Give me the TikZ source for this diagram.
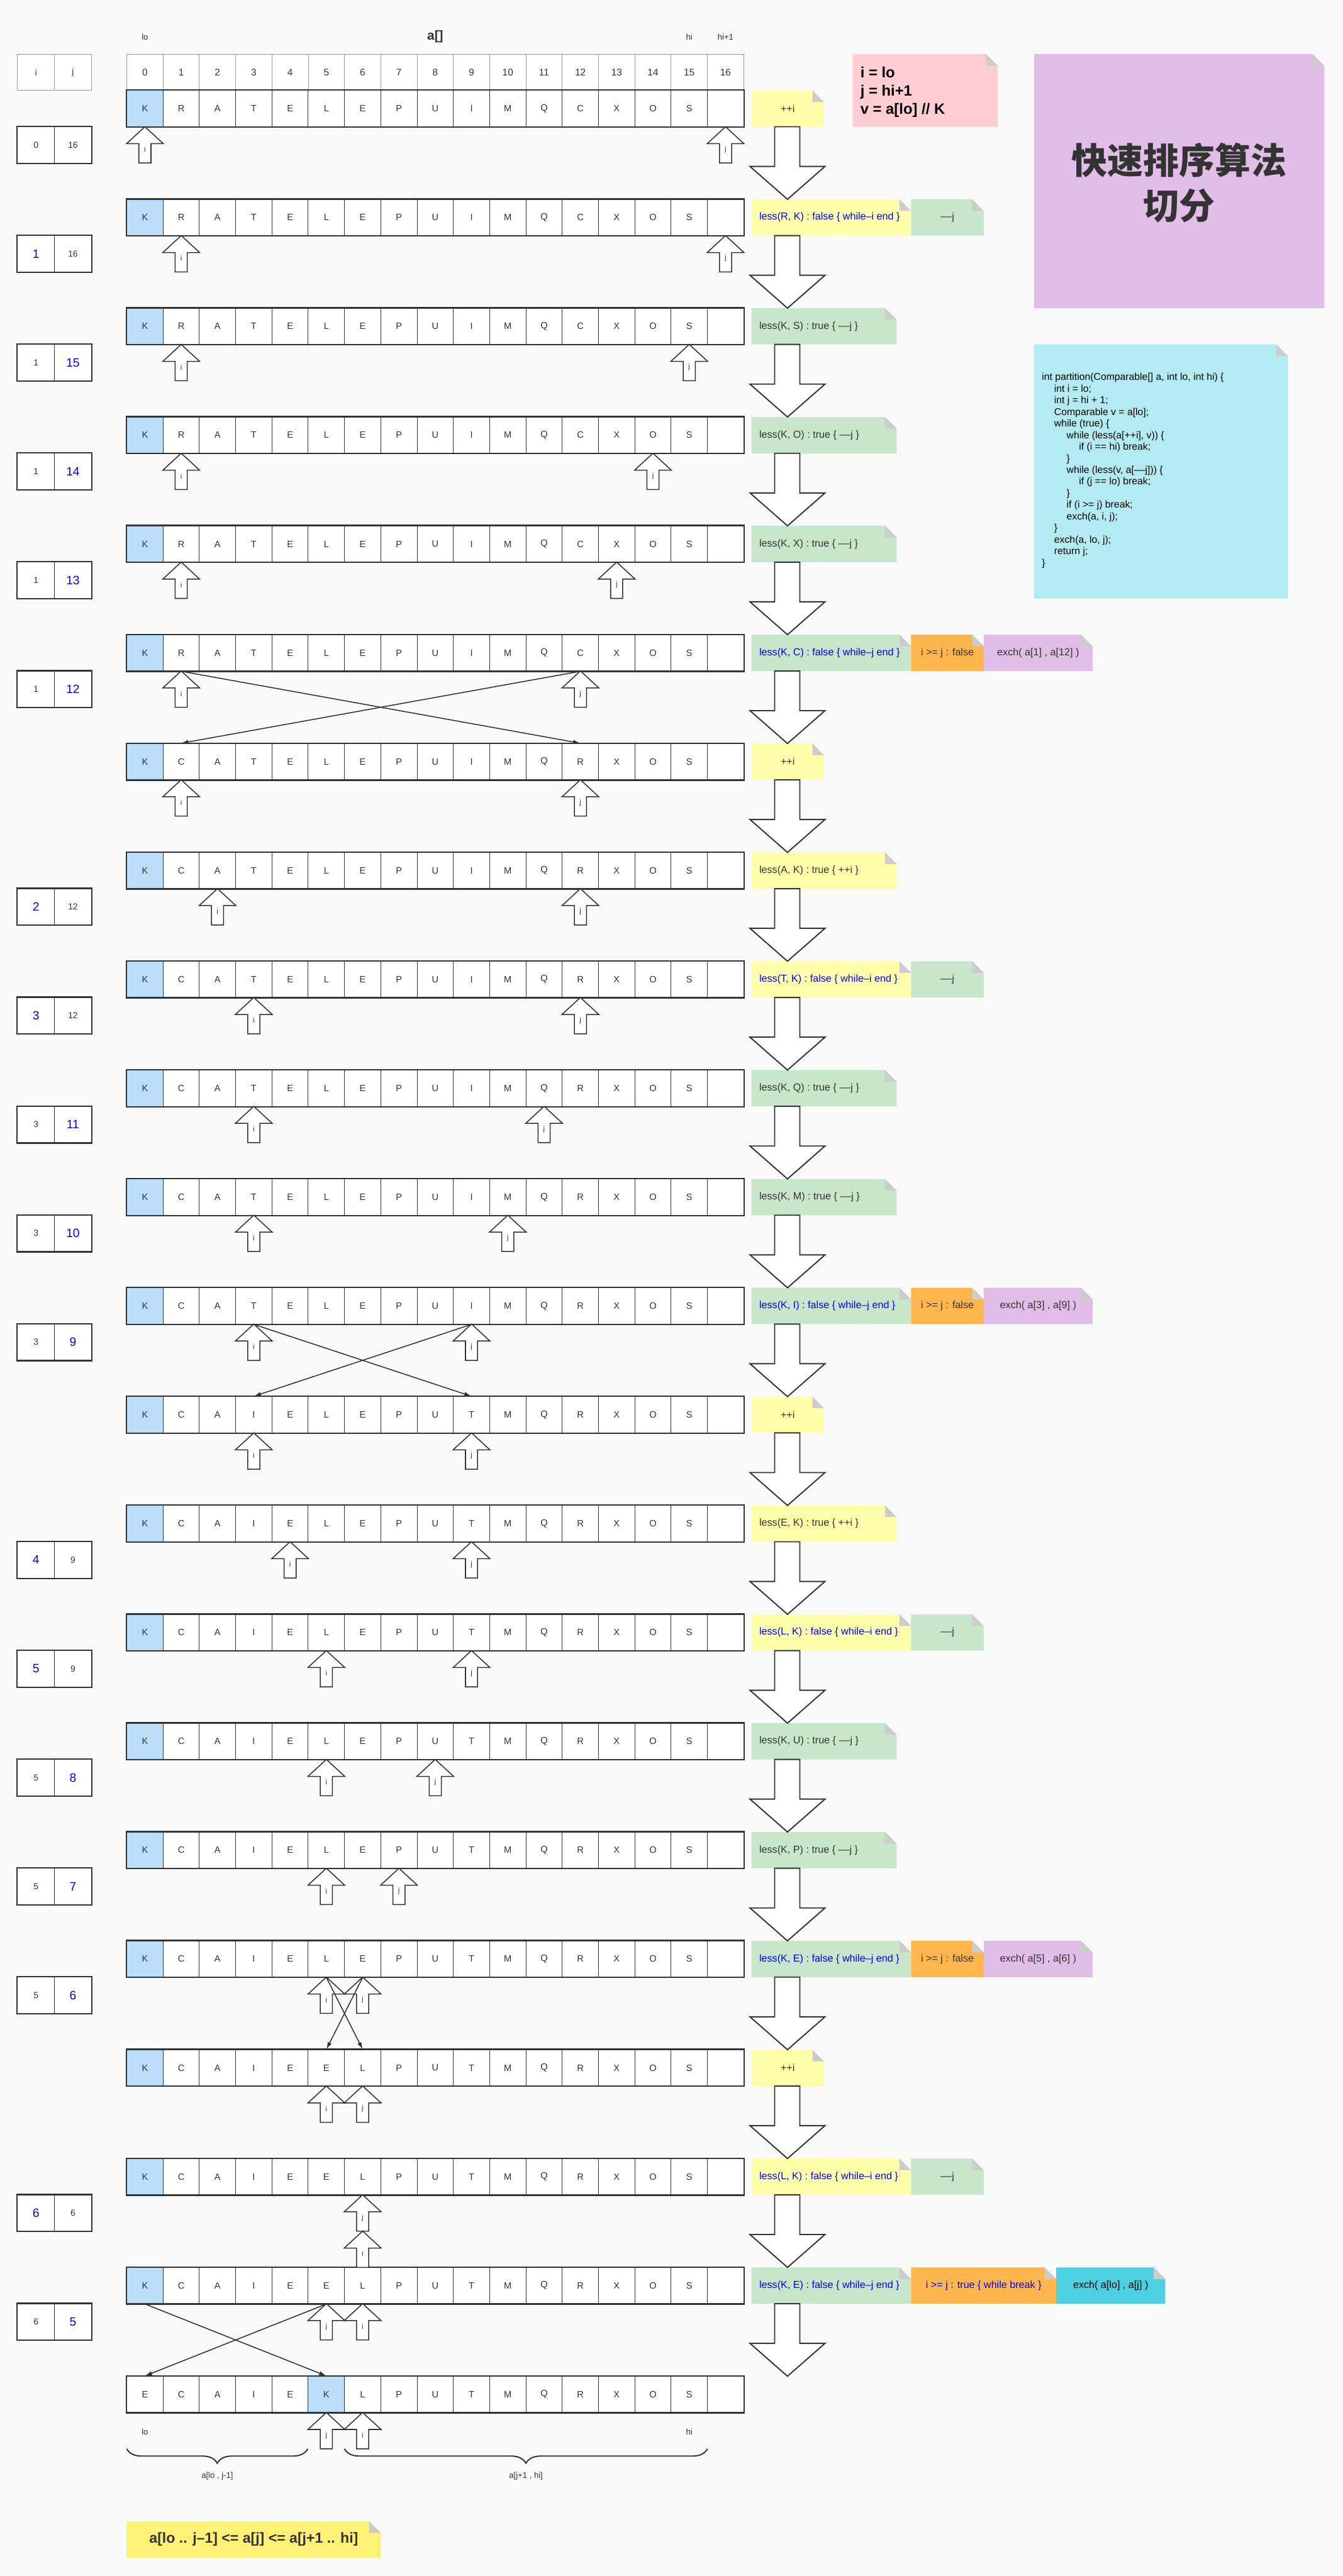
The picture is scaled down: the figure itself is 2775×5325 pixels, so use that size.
\documentclass[tikz,border=0pt]{standalone}
\usepackage{fontspec}
\setmainfont{Liberation Sans}
\newfontfamily\cjkfont{Noto Sans CJK SC}
\usetikzlibrary{arrows.meta,decorations.pathreplacing}
\definecolor{bgc}{HTML}{F9F9F9}
\definecolor{ink}{HTML}{333333}
\definecolor{hgray}{HTML}{999999}
\definecolor{cellblue}{HTML}{BBDEFB}
\definecolor{nyellow}{HTML}{FFFFAA}
\definecolor{ngreen}{HTML}{C8E6C9}
\definecolor{norange}{HTML}{FFB74D}
\definecolor{npurple}{HTML}{E1BEE7}
\definecolor{npink}{HTML}{FFCDD2}
\definecolor{ncyan}{HTML}{B2EBF2}
\definecolor{ncyanb}{HTML}{4DD0E1}
\definecolor{nyellowb}{HTML}{FFF176}
\definecolor{foldc}{HTML}{CCCCCC}
\definecolor{tblue}{HTML}{0000FF}
\newcommand\fs[1]{\fontsize{#1}{#1}\selectfont}
\def\rowA{K,R,A,T,E,L,E,P,U,I,M,Q,C,X,O,S,{}}
\def\rowB{K,C,A,T,E,L,E,P,U,I,M,Q,R,X,O,S,{}}
\def\rowC{K,C,A,I,E,L,E,P,U,T,M,Q,R,X,O,S,{}}
\def\rowD{K,C,A,I,E,E,L,P,U,T,M,Q,R,X,O,S,{}}
\def\rowE{E,C,A,I,E,K,L,P,U,T,M,Q,R,X,O,S,{}}
\tikzset{
 cell/.style={draw=ink, line width=1.3pt, minimum width=75pt, minimum height=75pt, inner sep=0pt, text=ink, font=\fs{19}},
 hcell/.style={draw=hgray, line width=1.2pt, fill=white, minimum width=75pt, minimum height=75pt, inner sep=0pt, text=ink, font=\fs{20}},
 hjcell/.style={draw=hgray, line width=1.2pt, fill=white, minimum width=76.5pt, minimum height=75pt, inner sep=0pt, text=ink, font=\fs{18}},
 scell/.style={draw=ink, line width=1.3pt, fill=white, minimum width=76.5pt, minimum height=75pt, inner sep=0pt, text=ink, font=\fs{18}},
 sblue/.style={text=tblue, font=\fs{25}},
 ptrshape/.style={draw=ink, fill=white, line width=2pt, line join=miter},
 ptrlabel/.style={inner sep=0pt, text=ink, font=\fs{15}},
 bigarrow/.style={draw=ink, fill=white, line width=2.5pt, line join=miter},
 ntxt/.style={inner sep=0pt, text=ink, font=\fs{21}},
 btxt/.style={inner sep=0pt, text=tblue, font=\fs{21}},
 ktxt/.style={inner sep=0pt, text=black, font=\fs{21}},
 xarr/.style={draw=ink, line width=2pt, -{Latex[length=15pt,width=9pt]}},
 lbl/.style={inner sep=0pt, text=ink, font=\fs{17}},
 codetxt/.style={inner sep=0pt, text=black, font=\fs{20.5}, anchor=west},
 bracestyle/.style={draw=ink, line width=2.5pt, decorate, decoration={brace, mirror, amplitude=30pt}},
}
% one array row: #1 row index, #2 letters, #3 highlighted column
\newcommand\drawrow[3]{%
 \foreach \ch [count=\cc from 0] in #2 {%
   \ifnum\cc=#3 \def\cf{cellblue}\else\def\cf{white}\fi
   \node[cell, fill=\cf] (r#1-\cc) at ({299.5+75*\cc},{224.5+225*#1}) {\ch};
 }
 \draw[line width=3pt, ink] (r#1-0.north west) rectangle (r#1-16.south east);
}
% state box: #1 row, #2 i, #3 j, #4 style i, #5 style j
\newcommand\stbox[5]{%
 \node[scell, #4] (s#1i) at (74.25,{299.5+225*#1}) {#2};
 \node[scell, #5] (s#1j) at (150.75,{299.5+225*#1}) {#3};
 \draw[line width=3pt, ink] (s#1i.north west) rectangle (s#1j.south east);
}
% pointer: #1 name, #2 column, #3 row, #4 label, #5 extra offset
\newcommand\ptr[5]{%
 \draw[ptrshape] ({299.5+75*#2},{262+225*#3+#5}) -- ++(38,35) -- ++(-25.5,0) -- ++(0,40) -- ++(-25,0) -- ++(0,-40) -- ++(-25.5,0) -- cycle;
 \node[ptrlabel] (#1) at ({299.5+75*#2},{309+225*#3+#5}) {#4};
}
\newcommand\bigarr[1]{%
 \draw[bigarrow] (1601,{262+225*#1}) -- (1653,{262+225*#1}) -- (1653,{344+225*#1}) -- (1705,{344+225*#1}) -- (1627.5,{412+225*#1}) -- (1550,{344+225*#1}) -- (1601,{344+225*#1}) -- cycle;
}
% note background: #1 x, #2 y top, #3 w, #4 h, #5 colour
\newcommand\notebg[5]{%
 \fill[#5] (#1,{#2}) -- ++({#3-24},0) -- ++(24,24) -- ++(0,{#4-24}) -- ++({-(#3)},0) -- cycle;
 \fill[foldc] ({#1+#3-24},{#2}) -- ++(24,24) -- ++(-24,0) -- cycle;
}
\newcommand\cnote[7]{%
 \notebg{#3}{187+225*#2}{#4}{75}{#5}
 \node[#6] (#1) at ({#3+#4/2},{224.5+225*#2}) {#7};
}
\newcommand\lnote[7]{%
 \notebg{#3}{187+225*#2}{#4}{75}{#5}
 \node[#6, anchor=west] (#1) at ({#3+16},{224.5+225*#2}) {#7};
}
\newcommand\cl[4]{\node[codetxt] (#1) at ({2153+25.6*#2},{781+24*#3}) {#4};}
\begin{document}
\begin{tikzpicture}[x=1pt,y=-1pt]
\useasboundingbox (0,0) rectangle (2775,5325);
\fill[bgc] (0,0) rectangle (2775,5325);
% top labels
\node[lbl] (toplo) at (299.5,76) {lo};
\node[inner sep=0pt, text=ink, font=\bfseries\fs{27}] (arrname) at (899.5,76) {a[]};
\node[lbl] (tophi) at (1424.5,76) {hi};
\node[lbl] (tophi1) at (1499.5,76) {hi+1};
% header
\node[hjcell] (hdi) at (74.25,149.5) {i};
\node[hjcell] (hdj) at (150.75,149.5) {j};
\foreach \c in {0,...,16} {\node[hcell] (h\c) at ({299.5+75*\c},149.5) {\c};}
% array rows
\foreach \k in {0,...,5} {\drawrow{\k}{\rowA}{0}}
\foreach \k in {6,...,11} {\drawrow{\k}{\rowB}{0}}
\foreach \k in {12,...,17} {\drawrow{\k}{\rowC}{0}}
\foreach \k in {18,...,20} {\drawrow{\k}{\rowD}{0}}
\drawrow{21}{\rowE}{5}
% state boxes
\stbox{0}{0}{16}{}{}
\stbox{1}{1}{16}{sblue}{}
\stbox{2}{1}{15}{}{sblue}
\stbox{3}{1}{14}{}{sblue}
\stbox{4}{1}{13}{}{sblue}
\stbox{5}{1}{12}{}{sblue}
\stbox{7}{2}{12}{sblue}{}
\stbox{8}{3}{12}{sblue}{}
\stbox{9}{3}{11}{}{sblue}
\stbox{10}{3}{10}{}{sblue}
\stbox{11}{3}{9}{}{sblue}
\stbox{13}{4}{9}{sblue}{}
\stbox{14}{5}{9}{sblue}{}
\stbox{15}{5}{8}{}{sblue}
\stbox{16}{5}{7}{}{sblue}
\stbox{17}{5}{6}{}{sblue}
\stbox{19}{6}{6}{sblue}{}
\stbox{20}{6}{5}{}{sblue}
% pointers
\foreach \k/\colI/\colJ in {0/0/16,1/1/16,2/1/15,3/1/14,4/1/13,5/1/12,6/1/12,7/2/12,8/3/12,9/3/11,10/3/10,11/3/9,12/3/9,13/4/9,14/5/9,15/5/8,16/5/7,17/5/6,18/5/6,20/6/5,21/6/5} {
  \ptr{pi\k}{\colI}{\k}{i}{0}
  \ptr{pj\k}{\colJ}{\k}{j}{0}
}
\ptr{pj19}{6}{19}{j}{0}
\ptr{pi19}{6}{19}{i}{75}
% notes
\cnote{n0}{0}{1553}{150}{nyellow}{ntxt}{++i}
\lnote{n1a}{1}{1553}{330}{nyellow}{btxt}{less(R, K) : false \{ while–i end \}}
\cnote{n1b}{1}{1883}{150}{ngreen}{ntxt}{––j}
\lnote{n2}{2}{1553}{300}{ngreen}{ntxt}{less(K, S) : true \{ ––j \}}
\lnote{n3}{3}{1553}{300}{ngreen}{ntxt}{less(K, O) : true \{ ––j \}}
\lnote{n4}{4}{1553}{300}{ngreen}{ntxt}{less(K, X) : true \{ ––j \}}
\lnote{n5a}{5}{1553}{330}{ngreen}{btxt}{less(K, C) : false \{ while–j end \}}
\cnote{n5b}{5}{1883}{150}{norange}{ntxt}{i >= j : false}
\cnote{n5c}{5}{2033}{225}{npurple}{ntxt}{exch( a[1] , a[12] )}
\cnote{n6}{6}{1553}{150}{nyellow}{ntxt}{++i}
\lnote{n7}{7}{1553}{300}{nyellow}{ntxt}{less(A, K) : true \{ ++i \}}
\lnote{n8a}{8}{1553}{330}{nyellow}{btxt}{less(T, K) : false \{ while–i end \}}
\cnote{n8b}{8}{1883}{150}{ngreen}{ntxt}{––j}
\lnote{n9}{9}{1553}{300}{ngreen}{ntxt}{less(K, Q) : true \{ ––j \}}
\lnote{n10}{10}{1553}{300}{ngreen}{ntxt}{less(K, M) : true \{ ––j \}}
\lnote{n11a}{11}{1553}{330}{ngreen}{btxt}{less(K, I) : false \{ while–j end \}}
\cnote{n11b}{11}{1883}{150}{norange}{ntxt}{i >= j : false}
\cnote{n11c}{11}{2033}{225}{npurple}{ntxt}{exch( a[3] , a[9] )}
\cnote{n12}{12}{1553}{150}{nyellow}{ntxt}{++i}
\lnote{n13}{13}{1553}{300}{nyellow}{ntxt}{less(E, K) : true \{ ++i \}}
\lnote{n14a}{14}{1553}{330}{nyellow}{btxt}{less(L, K) : false \{ while–i end \}}
\cnote{n14b}{14}{1883}{150}{ngreen}{ntxt}{––j}
\lnote{n15}{15}{1553}{300}{ngreen}{ntxt}{less(K, U) : true \{ ––j \}}
\lnote{n16}{16}{1553}{300}{ngreen}{ntxt}{less(K, P) : true \{ ––j \}}
\lnote{n17a}{17}{1553}{330}{ngreen}{btxt}{less(K, E) : false \{ while–j end \}}
\cnote{n17b}{17}{1883}{150}{norange}{ntxt}{i >= j : false}
\cnote{n17c}{17}{2033}{225}{npurple}{ntxt}{exch( a[5] , a[6] )}
\cnote{n18}{18}{1553}{150}{nyellow}{ntxt}{++i}
\lnote{n19a}{19}{1553}{330}{nyellow}{btxt}{less(L, K) : false \{ while–i end \}}
\cnote{n19b}{19}{1883}{150}{ngreen}{ntxt}{––j}
\lnote{n20a}{20}{1553}{330}{ngreen}{btxt}{less(K, E) : false \{ while–j end \}}
\cnote{n20b}{20}{1883}{300}{norange}{btxt}{i >= j : true \{ while break \}}
\cnote{n20c}{20}{2183}{225}{ncyanb}{ktxt}{exch( a[lo] , a[j] )}
% big flow arrows
\foreach \k in {0,...,20} {\bigarr{\k}}
% pink note
\notebg{1762}{112}{300}{150}{npink}
\node[anchor=base west, inner sep=0pt, font=\bfseries\fs{31}] (pk1) at (1778,161) {i = lo};
\node[anchor=base west, inner sep=0pt, font=\bfseries\fs{31}] (pk2) at (1778,198) {j = hi+1};
\node[anchor=base west, inner sep=0pt, font=\bfseries\fs{31}] (pk3) at (1778,236) {v = a[lo] // K};
% title
\notebg{2137}{112}{600}{525}{npurple}
\node[align=center, inner sep=0pt, text=ink, font=\cjkfont\bfseries\fontsize{74}{94}\selectfont] (title) at (2437,378) {快速排序算法\\切分};
% code
\notebg{2137}{712}{525}{525}{ncyan}
\cl{c0}{0}{0}{int partition(Comparable[] a, int lo, int hi) \{}
\cl{c1}{1}{1}{int i = lo;}
\cl{c2}{1}{2}{int j = hi + 1;}
\cl{c3}{1}{3}{Comparable v = a[lo];}
\cl{c4}{1}{4}{while (true) \{}
\cl{c5}{2}{5}{while (less(a[++i], v)) \{}
\cl{c6}{3}{6}{if (i == hi) break;}
\cl{c7}{2}{7}{\}}
\cl{c8}{2}{8}{while (less(v, a[––j])) \{}
\cl{c9}{3}{9}{if (j == lo) break;}
\cl{c10}{2}{10}{\}}
\cl{c11}{2}{11}{if (i >= j) break;}
\cl{c12}{2}{12}{exch(a, i, j);}
\cl{c13}{1}{13}{\}}
\cl{c14}{1}{14}{exch(a, lo, j);}
\cl{c15}{1}{15}{return j;}
\cl{c16}{0}{16}{\}}
% exchange connectors
\draw[xarr] (r5-1.south) -- (r6-12.north);
\draw[xarr] (r5-12.south) -- (r6-1.north);
\draw[xarr] (r11-3.south) -- (r12-9.north);
\draw[xarr] (r11-9.south) -- (r12-3.north);
\draw[xarr] (r17-5.south) -- (r18-6.north);
\draw[xarr] (r17-6.south) -- (r18-5.north);
\draw[xarr] (r20-0.south) -- (r21-5.north);
\draw[xarr] (r20-5.south) -- (r21-0.north);
% bottom labels and braces
\node[lbl] (botlo) at (299.5,5027) {lo};
\node[lbl] (bothi) at (1424.5,5027) {hi};
\coordinate (bl1) at (262,5062);
\coordinate (bl2) at (636,5062);
\coordinate (br1) at (712,5062);
\coordinate (br2) at (1462,5062);
\draw[bracestyle] (bl1) -- (bl2);
\draw[bracestyle] (br1) -- (br2);
\node[inner sep=0pt, text=ink, font=\fs{17}] (leftpart) at (449,5118) {a[lo , j-1]};
\node[inner sep=0pt, text=ink, font=\fs{17}] (rightpart) at (1087,5118) {a[j+1 , hi]};
% conclusion
\notebg{262}{5212}{525}{75}{nyellowb}
\node[inner sep=0pt, text=ink, font=\bfseries\fs{30}] (concl) at (524.5,5249.5) {a[lo .. j–1] <= a[j] <= a[j+1 .. hi]};
\end{tikzpicture}
\end{document}
